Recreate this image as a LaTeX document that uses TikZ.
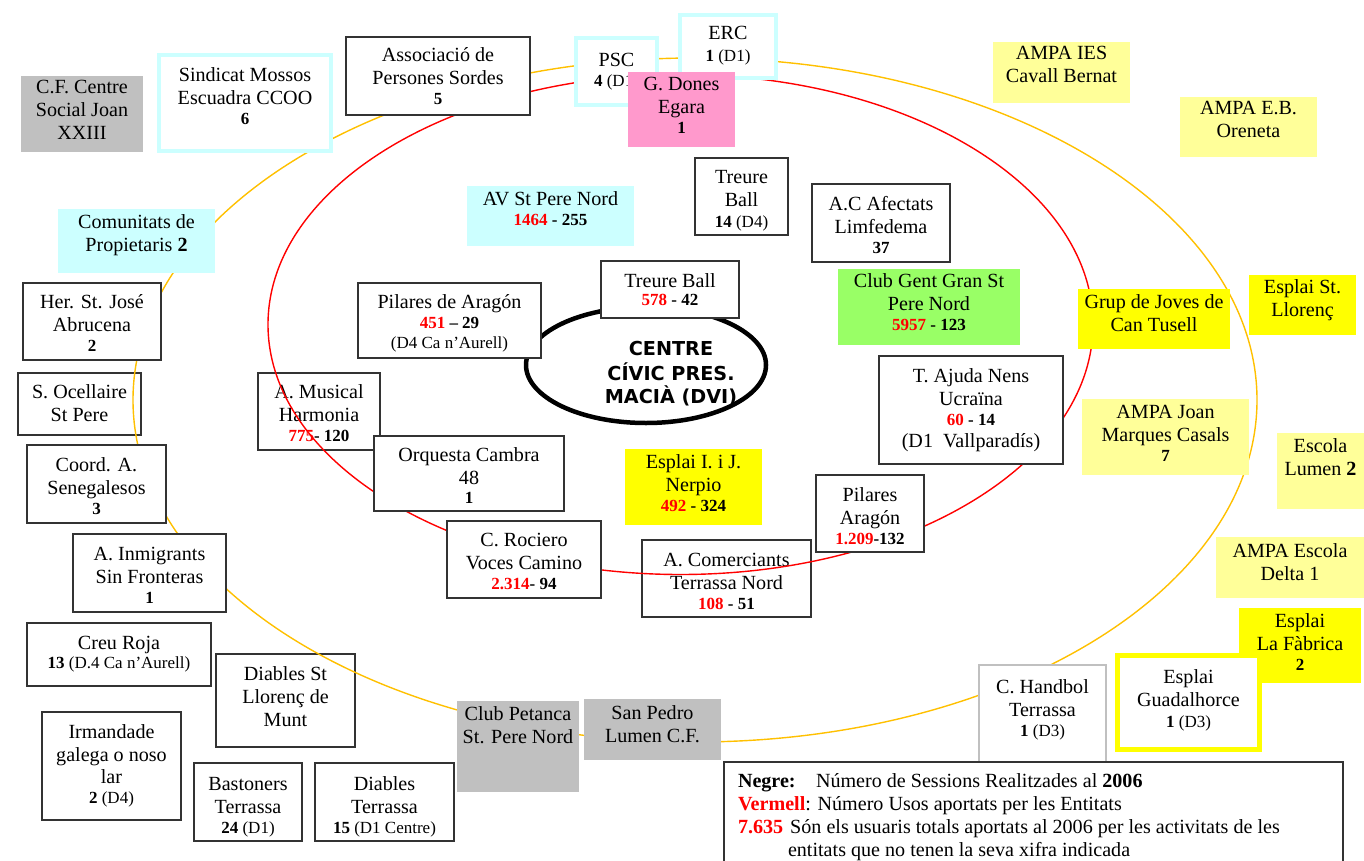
\documentclass[tikz,border=0pt]{standalone}
\usepackage{fontspec}
\setmainfont{Liberation Serif}
\newfontfamily\cfont{DejaVu Sans}
\usetikzlibrary{shapes.geometric}
\definecolor{txtred}{HTML}{FF0000}
\definecolor{lcyan}{HTML}{CCFFFF}
\definecolor{gfill}{HTML}{C0C0C0}
\definecolor{pinkf}{HTML}{FF99CC}
\definecolor{lyel}{HTML}{FFFF99}
\definecolor{yel}{HTML}{FFFF00}
\definecolor{grn}{HTML}{99FF66}
\definecolor{gold}{HTML}{FFC000}
\definecolor{bord}{HTML}{333333}
\newcommand\rn[1]{\textcolor{txtred}{\textbf{#1}}}
\newcommand\smt[1]{{\fontsize{17}{19}\selectfont #1}}
\newcommand\ent[8]{%
 \node[#2, anchor=north west, minimum width={(#5)-(#3)}, minimum height={(#6)-(#4)}] (#1) at (#3,#4) {};
 \node[txt, anchor=north] (#1-t) at ({((#3)+(#5))/2},{(#7)-16.1}) {\strut #8};}
\begin{document}
\begin{tikzpicture}[x=1pt,y=-1pt,
  every node/.style={inner sep=0pt, outer sep=0pt},
  txt/.style={font=\fontsize{20.1}{23}\selectfont, align=center},
  plain/.style={draw=bord, line width=1.2pt, fill=white},
  cybox/.style={draw=lcyan, line width=4pt, fill=white},
  ybox/.style={draw=yel, line width=5pt, fill=white},
  lgbox/.style={draw=gfill, line width=1.5pt, fill=white},
  grayf/.style={fill=gfill},
  cyanf/.style={fill=lcyan},
  pinkb/.style={fill=pinkf},
  lyelf/.style={fill=lyel},
  yelf/.style={fill=yel},
  grnf/.style={fill=grn},
  ring/.style={line width=1.4pt}]
\useasboundingbox (0,0) rectangle (1364,861);

% boxes lying under the rings
\ent{amus}{plain}{258}{373}{380}{450}{398}{A. Musical\\Harmonia\\[-3pt]\smt{\rn{775}\textbf{- 120}}}
\ent{acom}{plain}{642}{540}{811}{617}{566}{A. Comerciants\\Terrassa Nord\\[-3pt]\smt{\rn{108} \textbf{- 51}}}
\ent{socel}{plain}{18}{373}{141}{435}{398}{S. Ocellaire\\St Pere}
\ent{dsll}{plain}{216}{654}{355}{747}{680}{Diables St\\Llorenç de\\Munt}

% rings
\draw[ring, gold] (695,400) ellipse [x radius=562pt, y radius=342pt];
\draw[ring, txtred] (680.5,324.5) ellipse [x radius=412.5pt, y radius=250pt];

% centre
\node[draw, ellipse, line width=4.5pt, fill=white, minimum width=240pt, minimum height=116pt] (centre) at (646,365) {};
\node[font=\cfont\bfseries\fontsize{19.2}{22.5}\selectfont, align=center, anchor=north] (centre-t) at (671,{355-15.75}) {\strut CENTRE\\CÍVIC PRES.\\MACIÀ (DVI)};

% left column
\ent{cfc}{grayf}{21}{76}{143}{152}{94}{C.F. Centre\\Social Joan\\XXIII}
\ent{sind}{cybox}{159}{55}{331}{151}{82}{Sindicat Mossos\\Escuadra CCOO\\[-3pt]\smt{\textbf{6}}}
\ent{assoc}{plain}{346}{37}{530}{115}{62}{Associació de\\Persones Sordes\\[-3pt]\smt{\textbf{5}}}
\ent{psc}{cybox}{576}{38}{657}{105}{67}{PSC\\[-3pt]\smt{\textbf{4} (D1)}}
\ent{erc}{cybox}{680}{15}{776}{78}{40}{ERC\\[-1pt]\smt{\textbf{1} (D1)}}
\ent{gdon}{pinkb}{628}{72}{735}{147}{91}{G. Dones\\Egara\\[-3pt]\smt{\textbf{1}}}
\ent{ampaies}{lyelf}{993}{42}{1130}{103}{60}{AMPA IES\\Cavall Bernat}
\ent{ampaeb}{lyelf}{1180}{97}{1317}{157}{115}{AMPA E.B.\\Oreneta}
\ent{comp}{cyanf}{58}{209}{215}{273}{228}{Comunitats de\\Propietaris \textbf{2}}
\ent{hsja}{plain}{23}{283}{161}{360}{308}{Her. St. José\\Abrucena\\[-3pt]\smt{\textbf{2}}}
\ent{coord}{plain}{27}{445}{166}{523}{471}{Coord. A.\\Senegalesos\\[-3pt]\smt{\textbf{3}}}
\ent{aisf}{plain}{73}{534}{226}{612}{560}{A. Inmigrants\\Sin Fronteras\\[-3pt]\smt{\textbf{1}}}
\ent{creu}{plain}{27}{623}{211}{686}{649}{Creu Roja\\[-4pt]\smt{\textbf{13} (D.4 Ca n’Aurell)}}
\ent{irm}{plain}{42}{712}{181}{820}{738}{Irmandade\\galega o noso\\[-1pt]lar\\[-3pt]\smt{\textbf{2} (D4)}}
\ent{bast}{plain}{194}{763}{302}{841}{790}{Bastoners\\Terrassa\\[-3pt]\smt{\textbf{24} (D1)}}
\ent{diat}{plain}{315}{763}{454}{841}{790}{Diables\\Terrassa\\[-3pt]\smt{\textbf{15} (D1 Centre)}}

% inner
\ent{avsp}{cyanf}{467}{186}{634}{246}{205}{AV St Pere Nord\\[-3pt]\smt{\rn{1464} \textbf{- 255}}}
\ent{tb14}{plain}{695}{158}{788}{235}{183}{Treure\\Ball\\[-2pt]\smt{\textbf{14} (D4)}}
\ent{acaf}{plain}{812}{184}{950}{262}{210}{A.C Afectats\\Limfedema\\[-3pt]\smt{\textbf{37}}}
\ent{cggsp}{grnf}{838}{269}{1020}{345}{287}{Club Gent Gran St\\Pere Nord\\[-3pt]\smt{\rn{5957} \textbf{- 123}}}
\ent{pda}{plain}{358}{283}{541}{358}{308}{Pilares de Aragón\\[-3pt]\smt{\rn{451} \textbf{– 29}}\\[-3pt]\smt{(D4 Ca n’Aurell)}}
\ent{tb578}{plain}{601}{261}{739}{318}{287}{Treure Ball\\[-5pt]\smt{\rn{578} \textbf{- 42}}}
\ent{orq}{plain}{374}{436}{564}{511}{461}{Orquesta Cambra\\48\\[-4pt]\smt{\textbf{1}}}
\ent{esnerp}{yelf}{625}{449}{762}{525}{468}{Esplai I. i J.\\Nerpio\\[-3pt]\smt{\rn{492} \textbf{- 324}}}
\ent{croc}{plain}{447}{521}{601}{598}{546}{C. Rociero\\Voces Camino\\[-3pt]\smt{\rn{2.314}\textbf{- 94}}}
\ent{pila}{plain}{816}{475}{924}{552}{501}{Pilares\\Aragón\\[-3pt]\smt{\rn{1.209}\textbf{-132}}}
\ent{tajn}{plain}{879}{356}{1063}{464}{382}{T. Ajuda Nens\\Ucraïna\\[-3pt]\smt{\rn{60} \textbf{- 14}}\\[-1pt](D1\ \ Vallparadís)}

% right side
\ent{gjct}{yelf}{1078}{289}{1230}{349}{308}{Grup de Joves de\\Can Tusell}
\ent{esll}{yelf}{1249}{275}{1356}{335}{293}{Esplai St.\\Llorenç}
\ent{ampajm}{lyelf}{1082}{399}{1249}{475}{418}{AMPA Joan\\Marques Casals\\[-3pt]\smt{\textbf{7}}}
\ent{esclum}{lyelf}{1277}{433}{1364}{509}{452}{Escola\\Lumen \textbf{2}}
\ent{ampaed}{lyelf}{1216}{537}{1364}{598}{557}{AMPA Escola\\Delta 1}
\ent{esfab}{yelf}{1239}{608}{1361}{683}{627}{Esplai\\La Fàbrica\\[-3pt]\smt{\textbf{2}}}
\ent{esgua}{ybox}{1117.5}{655.5}{1259.5}{749.5}{683}{Esplai\\Guadalhorce\\[-2pt]\smt{\textbf{1} (D3)}}
\ent{chand}{lgbox}{979}{665}{1106}{800}{693}{C. Handbol\\Terrassa\\[-3pt]\smt{\textbf{1} (D3)}}

% bottom
\ent{cpet}{grayf}{457}{701}{579}{792}{720}{Club Petanca\\St. Pere Nord}
\ent{sped}{grayf}{584}{699}{721}{760}{719}{San Pedro\\Lumen C.F.}

% legend
\node[plain, anchor=north west, minimum width=619pt, minimum height=120pt] (leg) at (724,762) {};
\node[txt, align=left, anchor=north west] (leg-t) at (738,{787-16.1}) {\strut\makebox[78pt][l]{\textbf{Negre:}}Número de Sessions Realitzades al \textbf{2006}\\
\rn{Vermell}: Número Usos aportats per les Entitats\\
\rn{7.635}\hspace{7pt}Són els usuaris totals aportats al 2006 per les activitats de les\\
\hspace*{50pt}entitats que no tenen la seva xifra indicada};
\end{tikzpicture}
\end{document}
